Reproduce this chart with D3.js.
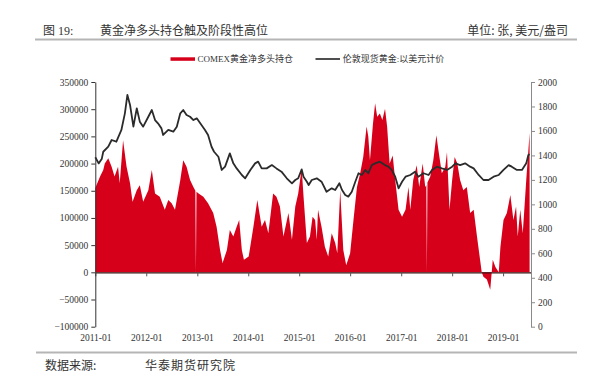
<!DOCTYPE html>
<html><head><meta charset="utf-8">
<script src="https://cdn.jsdelivr.net/npm/d3@7"></script>
<style>body{margin:0;background:#fff}</style>
</head><body><svg id="c" width="600" height="380"></svg>
<script>
const netLongDates = ["2011-01-01","2011-02-04","2011-02-27","2011-03-10","2011-04-04","2011-04-28","2011-05-19","2011-06-13","2011-06-25","2011-07-19","2011-08-13","2011-09-07","2011-09-25","2011-10-25","2011-11-16","2011-12-10",
"2012-01-16","2012-02-10","2012-03-04","2012-04-07","2012-05-13","2012-06-07","2012-07-01","2012-07-25","2012-09-01","2012-09-22","2012-10-16","2012-11-10","2012-12-04","2012-12-18","2012-12-22","2012-12-26",
"2013-01-10","2013-02-13","2013-03-19","2013-04-25","2013-05-19","2013-06-13","2013-07-01","2013-08-01","2013-08-22","2013-09-16","2013-10-10","2013-10-28","2013-11-16","2013-12-01",
"2014-01-04","2014-02-07","2014-03-07","2014-04-07","2014-05-01","2014-05-25","2014-06-28","2014-07-22","2014-08-16","2014-09-10","2014-10-16","2014-11-10","2014-12-04","2014-12-25",
"2015-01-19","2015-02-01","2015-02-25","2015-03-19","2015-04-07","2015-04-25","2015-05-07","2015-05-16","2015-06-10","2015-07-04","2015-07-28","2015-08-22","2015-09-16","2015-10-01","2015-10-22","2015-11-13","2015-12-04",
"2016-01-01","2016-01-25","2016-02-19","2016-03-13","2016-04-04","2016-04-28","2016-05-10","2016-05-22","2016-06-13","2016-06-28","2016-07-13","2016-08-01","2016-08-19","2016-09-07","2016-09-22","2016-10-10","2016-11-01","2016-11-19","2016-12-13",
"2017-01-07","2017-02-01","2017-02-22","2017-03-07","2017-03-28","2017-04-22","2017-05-10","2017-06-04","2017-06-22","2017-06-30","2017-07-04","2017-07-08","2017-07-28","2017-08-19","2017-09-10","2017-09-25","2017-10-19","2017-11-13","2017-11-25","2017-12-13",
"2018-01-01","2018-01-19","2018-02-07","2018-02-27","2018-03-22","2018-04-16","2018-05-10","2018-06-04","2018-06-28","2018-08-01","2018-08-13","2018-09-07","2018-10-01","2018-10-19","2018-11-07","2018-12-01","2018-12-13",
"2019-01-04","2019-01-28","2019-02-22","2019-03-16","2019-04-04","2019-04-16","2019-05-04","2019-05-22","2019-06-16","2019-07-10"];
const netLongValues = [155000,176000,188000,200000,210000,194000,176000,194000,164000,243000,194000,164000,130000,151000,160000,130000,
151000,188000,145000,139000,115000,133000,127000,115000,170000,206000,194000,170000,157000,150000,0,148000,
145000,139000,127000,109000,84000,41000,17000,41000,78000,66000,84000,96000,41000,23000,
29000,84000,133000,84000,96000,72000,145000,139000,121000,66000,109000,60000,121000,145000,
191000,140000,54000,66000,102000,96000,60000,115000,84000,47000,29000,72000,54000,35000,151000,41000,13000,
35000,96000,157000,182000,212000,268000,250000,206000,274000,311000,286000,292000,280000,301000,268000,200000,215000,170000,115000,
102000,115000,157000,115000,170000,197000,157000,200000,157000,160000,0,165000,176000,206000,252000,224000,182000,194000,221000,115000,
170000,212000,200000,170000,151000,157000,109000,115000,66000,0,-8000,-13000,-32000,23000,10000,0,47000,
96000,109000,142000,96000,121000,66000,115000,72000,170000,256000];

const goldDates = ["2011-01-01","2011-01-25","2011-02-16","2011-02-27","2011-04-04","2011-04-28","2011-06-01","2011-07-07","2011-08-01","2011-08-19","2011-09-07","2011-10-01","2011-10-25","2011-11-16","2011-12-10",
"2012-01-16","2012-02-10","2012-03-04","2012-03-25","2012-04-19","2012-05-01","2012-06-07","2012-07-13","2012-08-07","2012-09-01","2012-09-22","2012-10-16","2012-11-10","2012-12-04","2012-12-28",
"2013-01-22","2013-02-25","2013-03-19","2013-04-13","2013-05-01","2013-06-01","2013-06-25","2013-07-19","2013-08-22","2013-09-16","2013-10-10","2013-11-16","2013-12-10",
"2014-01-16","2014-02-19","2014-03-13","2014-04-07","2014-05-13","2014-06-19","2014-07-22","2014-08-27","2014-10-04","2014-11-10","2014-12-04","2014-12-25",
"2015-01-19","2015-02-01","2015-02-25","2015-03-10","2015-04-01","2015-05-07","2015-06-10","2015-07-16","2015-08-22","2015-09-16","2015-10-16","2015-11-04","2015-11-27","2015-12-19",
"2016-01-13","2016-02-07","2016-03-01","2016-03-25","2016-04-19","2016-05-10","2016-06-04","2016-06-28","2016-08-01","2016-09-07","2016-10-01","2016-10-25","2016-11-19","2016-12-13",
"2017-01-07","2017-02-01","2017-03-07","2017-04-10","2017-05-04","2017-06-10","2017-07-16","2017-08-10","2017-09-13","2017-10-19","2017-11-25",
"2018-01-01","2018-01-25","2018-02-27","2018-04-04","2018-05-10","2018-06-04","2018-07-10","2018-08-13","2018-09-19","2018-10-25","2018-12-01",
"2019-01-04","2019-02-10","2019-03-04","2019-04-10","2019-05-16","2019-06-16","2019-07-01","2019-07-10"];
const goldValues = [1385,1335,1370,1430,1471,1526,1512,1608,1744,1894,1812,1635,1785,1676,1635,
1716,1771,1689,1662,1621,1567,1608,1594,1635,1744,1771,1730,1716,1689,1703,
1662,1608,1567,1471,1430,1389,1281,1308,1417,1335,1294,1240,1213,
1281,1335,1349,1294,1294,1321,1294,1267,1213,1172,1199,1213,
1286,1226,1185,1158,1199,1213,1185,1103,1131,1117,1172,1117,1076,1063,
1103,1185,1254,1240,1281,1254,1321,1335,1349,1321,1308,1281,1226,1131,
1185,1226,1240,1267,1226,1254,1240,1281,1308,1294,1281,
1308,1335,1321,1335,1308,1294,1240,1199,1199,1226,1240,
1281,1321,1308,1281,1281,1335,1403,1410];

const xTickLabels = ["2011-01","2012-01","2013-01","2014-01","2015-01","2016-01","2017-01","2018-01","2019-01"];
const leftTicks = [-100000,-50000,0,50000,100000,150000,200000,250000,300000,350000];
const rightTicks = [0,200,400,600,800,1000,1200,1400,1600,1800,2000];

const serif = "'Liberation Serif','Times New Roman',serif";
const cjk = "'Liberation Serif','Noto Sans CJK SC',serif";
const parse = d3.timeParse("%Y-%m-%d");
const parseM = d3.timeParse("%Y-%m");
const svg = d3.select("#c");

const x = d3.scaleTime().domain([parse("2011-01-01"), parse("2019-07-20")]).range([95.3, 531]);
const yL = d3.scaleLinear().domain([-100000, 350000]).range([326.7, 82]);
const yR = d3.scaleLinear().domain([0, 2000]).range([326.7, 82]);

const netData = netLongDates.map((d, i) => ({date: parse(d), v: netLongValues[i]}));
const goldData = goldDates.map((d, i) => ({date: parse(d), v: goldValues[i]}));

// header
svg.append("text").attr("x", 43).attr("y", 35).attr("font-family", cjk).attr("font-size", 12).attr("fill", "#333").text("图 19:");
svg.append("text").attr("x", 100).attr("y", 35).attr("font-family", "'Noto Sans CJK SC'").attr("font-size", 12).attr("fill", "#333").text("黄金净多头持仓触及阶段性高位");
svg.append("text").attr("x", 568).attr("y", 35).attr("text-anchor", "end").attr("font-family", "'Noto Sans CJK SC'").attr("font-size", 12).attr("fill", "#333").text("单位: 张, 美元/盎司");
svg.append("line").attr("x1", 35).attr("x2", 577).attr("y1", 39.5).attr("y2", 39.5).attr("stroke", "#b5b5b5").attr("stroke-width", 2);

// legend
svg.append("rect").attr("x", 170.5).attr("y", 57.3).attr("width", 24.5).attr("height", 3.5).attr("fill", "#d7001b");
svg.append("text").attr("x", 197.5).attr("y", 62).attr("font-family", cjk).attr("font-size", 9).attr("fill", "#333").text("COMEX黄金净多头持仓");
svg.append("line").attr("x1", 315.5).attr("x2", 340).attr("y1", 59).attr("y2", 59).attr("stroke", "#222").attr("stroke-width", 1.6);
svg.append("text").attr("x", 342.7).attr("y", 62).attr("font-family", cjk).attr("font-size", 9).attr("fill", "#333").text("伦敦现货黄金:以美元计价");

// area
const area = d3.area().x(d => x(d.date)).y0(yL(0)).y1(d => yL(d.v));
svg.append("path").datum(netData).attr("d", area).attr("fill", "#d7001b");

// gold line
const line = d3.line().x(d => x(d.date)).y(d => yR(d.v));
svg.append("path").datum(goldData).attr("d", line).attr("fill", "none").attr("stroke", "#2b2b2b").attr("stroke-width", 1.8).attr("stroke-linejoin", "round");

// x axis on zero line
const gx = svg.append("g").attr("transform", `translate(0,${yL(0)})`)
  .call(d3.axisBottom(x).tickValues(xTickLabels.map(s => parseM(s))).tickFormat(d3.timeFormat("%Y-%m")).tickSize(4).tickSizeOuter(0).tickPadding(58));
gx.select(".domain").attr("stroke", "#3a1010").attr("stroke-width", 1.2);
gx.selectAll(".tick line").attr("stroke", "#555");
gx.selectAll("text").attr("font-family", serif).attr("font-size", 9.5).attr("fill", "#333");

// left axis
const gl = svg.append("g").attr("transform", "translate(95.3,0)")
  .call(d3.axisLeft(yL).tickValues(leftTicks).tickFormat(d3.format("d")).tickSize(4).tickSizeOuter(0).tickPadding(3));
gl.select(".domain").attr("stroke", "#333");
gl.selectAll(".tick line").attr("stroke", "#333");
gl.selectAll("text").attr("font-family", serif).attr("font-size", 9.5).attr("fill", "#333");

// right axis
const gr = svg.append("g").attr("transform", "translate(531,0)")
  .call(d3.axisRight(yR).tickValues(rightTicks).tickFormat(d3.format("d")).tickSize(4).tickSizeOuter(0).tickPadding(3));
gr.select(".domain").attr("stroke", "#8a8a8a");
gr.selectAll(".tick line").attr("stroke", "#8a8a8a");
gr.selectAll("text").attr("font-family", serif).attr("font-size", 9.5).attr("fill", "#333");

// footer
svg.append("line").attr("x1", 36).attr("x2", 577).attr("y1", 352.5).attr("y2", 352.5).attr("stroke", "#b5b5b5").attr("stroke-width", 2);
svg.append("text").attr("x", 45).attr("y", 370).attr("font-family", "'Noto Sans CJK SC'").attr("font-size", 12).attr("fill", "#333").text("数据来源:");
svg.append("text").attr("x", 145).attr("y", 370).attr("font-family", "'Noto Sans CJK SC'").attr("font-size", 12).attr("letter-spacing", 1).attr("fill", "#333").text("华泰期货研究院");
</script></body></html>
